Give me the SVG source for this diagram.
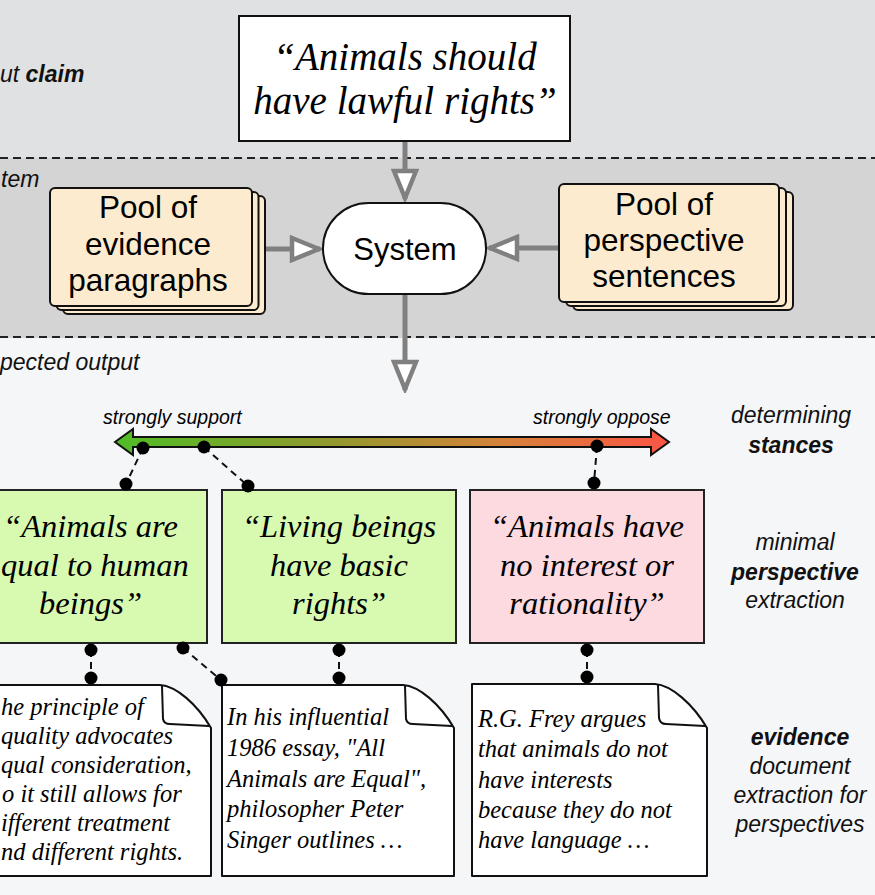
<svg xmlns="http://www.w3.org/2000/svg" width="875" height="895" viewBox="0 0 875 895">
<style>
.sans{font-family:"Liberation Sans",Arial,Helvetica,sans-serif;}
.serif{font-family:"Liberation Serif","Times New Roman",serif;font-style:italic;}
.lbl{font-family:"Liberation Sans",Arial,Helvetica,sans-serif;font-style:italic;font-size:23px;fill:#111;}
.b{font-weight:bold;}
.sep{stroke:#222;stroke-width:1.8;stroke-dasharray:8 5;fill:none;}
.flow{stroke:#808080;stroke-width:5;fill:none;marker-end:url(#open);}
.card{fill:#fdebcf;stroke:#111;stroke-width:2;}
.pool{font-size:31.5px;fill:#000;text-anchor:middle;}
.persp{stroke:#222;stroke-width:2;}
.ptxt{font-size:32.5px;fill:#000;text-anchor:middle;}
.doc{fill:#fff;stroke:#111;stroke-width:2;stroke-linejoin:round;}
.dtxt{font-size:24.5px;fill:#000;}
.dash{stroke:#111;stroke-width:2;stroke-dasharray:7 5;fill:none;}
.dot{fill:#000;}
</style>
<defs>
<marker id="open" markerUnits="userSpaceOnUse" viewBox="0 0 34 28" refX="31" refY="14" markerWidth="34" markerHeight="28" orient="auto">
<path d="M3,3 L30,14 L3,25 Z" fill="#fff" stroke="#808080" stroke-width="4.5" stroke-linejoin="miter"/>
</marker>
<linearGradient id="stance" gradientUnits="userSpaceOnUse" x1="115" y1="0" x2="669" y2="0">
<stop offset="0" stop-color="#4fbd25"/>
<stop offset="0.4" stop-color="#94982e"/>
<stop offset="0.7" stop-color="#d5823a"/>
<stop offset="1" stop-color="#fb5545"/>
</linearGradient>
</defs>

<!-- bands -->
<rect x="0" y="0" width="875" height="158" fill="#e0e1e3"/>
<rect x="0" y="158" width="875" height="180" fill="#d4d4d4"/>
<rect x="0" y="338" width="875" height="557" fill="#f5f6f8"/>
<line class="sep" x1="0" y1="158" x2="875" y2="158"/>
<line class="sep" x1="0" y1="337" x2="875" y2="337"/>

<!-- section labels -->
<text class="lbl" x="0" y="82">ut <tspan class="b">claim</tspan></text>
<text class="lbl" x="1" y="187">tem</text>
<text class="lbl" x="0" y="370">pected output</text>
<g id="label-stances" class="lbl" text-anchor="middle">
<text x="791" y="423">determining</text>
<text x="791" y="453" class="b">stances</text>
</g>
<g id="label-perspective" class="lbl" text-anchor="middle">
<text x="795" y="550">minimal</text>
<text x="795" y="580" class="b">perspective</text>
<text x="795" y="608">extraction</text>
</g>
<g id="label-evidence" class="lbl" text-anchor="middle">
<text x="800" y="745" class="b">evidence</text>
<text x="800" y="774">document</text>
<text x="800" y="803">extraction for</text>
<text x="800" y="832">perspectives</text>
</g>

<!-- connectors -->
<g id="connectors">
<line class="flow" x1="405" y1="141" x2="405" y2="199"/>
<line class="flow" x1="252" y1="249" x2="320" y2="249"/>
<line class="flow" x1="559" y1="248" x2="489" y2="248"/>
<line class="flow" x1="405" y1="294" x2="405" y2="390"/>
<line class="dash" x1="143" y1="448" x2="126" y2="484"/>
<line class="dash" x1="204" y1="447" x2="248" y2="486"/>
<line class="dash" x1="597" y1="446" x2="594" y2="483"/>
<line class="dash" x1="91" y1="650" x2="91" y2="678"/>
<line class="dash" x1="183" y1="648" x2="221" y2="680"/>
<line class="dash" x1="339" y1="650" x2="339" y2="678"/>
<line class="dash" x1="587" y1="650" x2="587" y2="677"/>
</g>

<!-- claim -->
<g id="claim">
<rect x="239" y="16" width="331" height="125" fill="#fff" stroke="#111" stroke-width="2"/>
<text class="serif" font-size="39" text-anchor="middle" x="405" y="70">“Animals should</text>
<text class="serif" font-size="39" text-anchor="middle" x="405" y="114">have lawful rights”</text>
</g>

<!-- pools -->
<g id="pool-evidence">
<rect class="card" x="63" y="196" width="202" height="118" rx="5"/>
<rect class="card" x="56.5" y="192" width="202" height="118" rx="5"/>
<rect class="card" x="50" y="188" width="202" height="118" rx="5"/>
<text class="sans pool" x="148" y="218">Pool of</text>
<text class="sans pool" x="148" y="255">evidence</text>
<text class="sans pool" x="148" y="291">paragraphs</text>
</g>
<g id="pool-perspective">
<rect class="card" x="573" y="192" width="220" height="118" rx="5"/>
<rect class="card" x="566" y="188" width="220" height="118" rx="5"/>
<rect class="card" x="559" y="184" width="220" height="118" rx="5"/>
<text class="sans pool" x="664" y="215">Pool of</text>
<text class="sans pool" x="664" y="251">perspective</text>
<text class="sans pool" x="664" y="287">sentences</text>
</g>

<!-- system -->
<g id="system">
<rect x="323" y="203" width="163" height="91" rx="45.5" fill="#fff" stroke="#111" stroke-width="2"/>
<text class="sans" font-size="31" text-anchor="middle" x="405" y="260">System</text>
</g>

<!-- stance arrow -->
<g id="stance-axis">
<path d="M115,442 L133,429 L133,437 L651,437 L651,429 L669,442 L651,455 L651,447 L133,447 L133,455 Z" fill="url(#stance)" stroke="#111" stroke-width="2" stroke-linejoin="miter"/>
<text class="sans" font-style="italic" font-size="19.5" x="103" y="424">strongly support</text>
<text class="sans" font-style="italic" font-size="19.5" x="533" y="424">strongly oppose</text>
</g>

<!-- perspectives -->
<g id="persp-1">
<rect class="persp" x="-3" y="490" width="210" height="153" fill="#d8f9b0"/>
<text class="serif ptxt" x="90.5" y="537">“Animals are</text>
<text class="serif" font-size="32.5" x="1" y="576">qual to human</text>
<text class="serif ptxt" x="90.5" y="614">beings”</text>
</g>
<g id="persp-2">
<rect class="persp" x="222" y="490" width="234" height="153" fill="#d8f9b0"/>
<text class="serif ptxt" x="339" y="537">“Living beings</text>
<text class="serif ptxt" x="339" y="576">have basic</text>
<text class="serif ptxt" x="339" y="614">rights”</text>
</g>
<g id="persp-3">
<rect class="persp" x="470" y="490" width="234" height="153" fill="#fdd9e0"/>
<text class="serif ptxt" x="587" y="537">“Animals have</text>
<text class="serif ptxt" x="587" y="576">no interest or</text>
<text class="serif ptxt" x="587" y="614">rationality”</text>
</g>

<!-- evidence docs -->
<g id="doc-1">
<path class="doc" d="M-3,685 L160,685 C176,686 197,704 211,728 L211,876 L-3,876 Z"/>
<path d="M162,686 L163,719 Q164,724 170,724 L209,726" fill="none" stroke="#111" stroke-width="2"/>
<text class="serif dtxt" x="1" y="715">he principle of</text>
<text class="serif dtxt" x="1" y="744">quality advocates</text>
<text class="serif dtxt" x="1" y="773">qual consideration,</text>
<text class="serif dtxt" x="2" y="802">o it still allows for</text>
<text class="serif dtxt" x="1" y="831">ifferent treatment</text>
<text class="serif dtxt" x="1" y="860">nd different rights.</text>
</g>
<g id="doc-2">
<path class="doc" d="M222,685 L403,685 C419,686 440,704 454,728 L454,876 L222,876 Z"/>
<path d="M405,686 L406,719 Q407,724 413,724 L452,726" fill="none" stroke="#111" stroke-width="2"/>
<text class="serif dtxt" x="227" y="725">In his influential</text>
<text class="serif dtxt" x="227" y="756">1986 essay, "All</text>
<text class="serif dtxt" x="227" y="787">Animals are Equal",</text>
<text class="serif dtxt" x="227" y="817">philosopher Peter</text>
<text class="serif dtxt" x="227" y="848">Singer outlines …</text>
</g>
<g id="doc-3">
<path class="doc" d="M472,684 L655,684 C671,685 693,704 707,728 L707,876 L472,876 Z"/>
<path d="M658,685 L659,718 Q660,724 666,724 L705,726" fill="none" stroke="#111" stroke-width="2"/>
<text class="serif dtxt" x="478" y="727">R.G. Frey argues</text>
<text class="serif dtxt" x="478" y="757">that animals do not</text>
<text class="serif dtxt" x="478" y="788">have interests</text>
<text class="serif dtxt" x="478" y="818">because they do not</text>
<text class="serif dtxt" x="478" y="848">have language …</text>
</g>

<!-- dots -->
<g id="dots" class="dot">
<circle cx="143" cy="448" r="6.5"/>
<circle cx="204" cy="447" r="6.5"/>
<circle cx="597" cy="446" r="6.5"/>
<circle cx="126" cy="484" r="6.5"/>
<circle cx="248" cy="486" r="6.5"/>
<circle cx="594" cy="483" r="6.5"/>
<circle cx="91" cy="650" r="6.5"/>
<circle cx="183" cy="648" r="6.5"/>
<circle cx="339" cy="650" r="6.5"/>
<circle cx="587" cy="650" r="6.5"/>
<circle cx="91" cy="678" r="6.5"/>
<circle cx="221" cy="680" r="6.5"/>
<circle cx="339" cy="678" r="6.5"/>
<circle cx="587" cy="677" r="6.5"/>
</g>
</svg>
